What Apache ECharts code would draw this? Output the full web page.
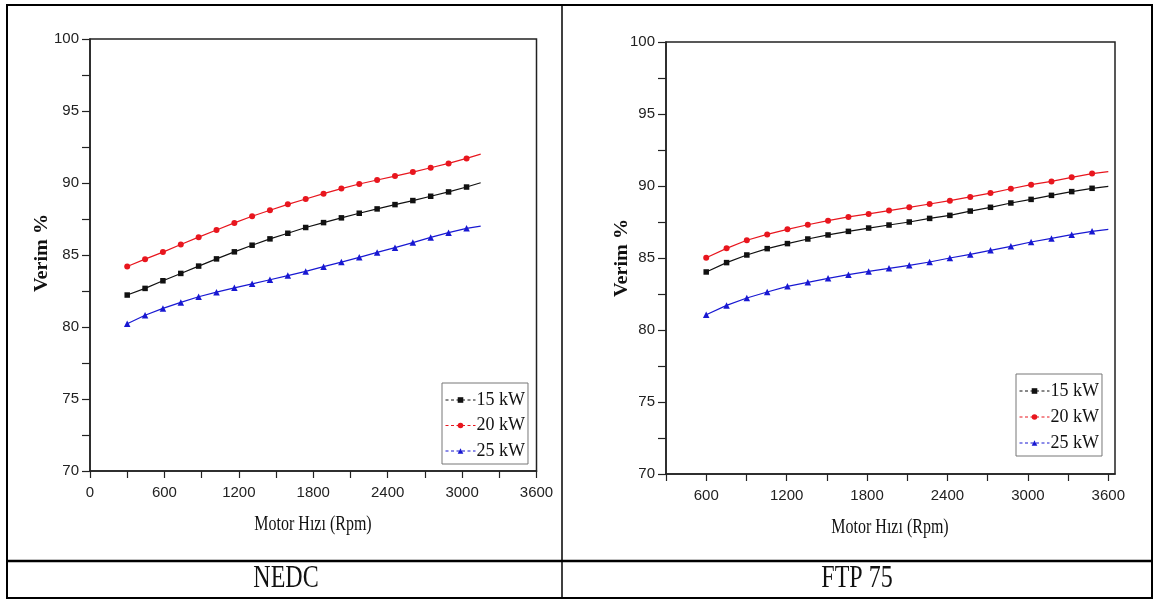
<!DOCTYPE html>
<html>
<head>
<meta charset="utf-8">
<script src="https://cdn.jsdelivr.net/npm/echarts@6/dist/echarts.min.js"></script>
<style>
html,body{margin:0;padding:0;background:#fff;}
#c{width:1154px;height:599px;}
</style>
</head>
<body>
<div id="c"></div>
<script>
// ---- Data ----
const seriesNames = ['15 kW', '20 kW', '25 kW'];

// NEDC (left)
const nedcRpm = [300, 444, 588, 732, 876, 1020, 1164, 1307, 1451, 1595, 1739, 1883, 2027, 2171, 2315, 2459, 2603, 2747, 2891, 3036, 3150];
const nedc15 = [82.22, 82.68, 83.21, 83.72, 84.23, 84.73, 85.22, 85.68, 86.12, 86.51, 86.91, 87.25, 87.58, 87.90, 88.20, 88.50, 88.78, 89.08, 89.38, 89.72, 90.02];
const nedc20 = [84.20, 84.71, 85.20, 85.73, 86.24, 86.74, 87.23, 87.69, 88.11, 88.52, 88.89, 89.26, 89.61, 89.93, 90.21, 90.48, 90.76, 91.06, 91.36, 91.71, 92.01];
const nedc25 = [80.22, 80.82, 81.29, 81.71, 82.10, 82.42, 82.72, 83.00, 83.28, 83.57, 83.86, 84.19, 84.51, 84.84, 85.18, 85.51, 85.86, 86.22, 86.55, 86.85, 87.00];

// FTP 75 (right)
const ftpRpm = [600, 752, 903, 1055, 1206, 1358, 1509, 1661, 1812, 1964, 2115, 2267, 2418, 2570, 2721, 2873, 3024, 3176, 3327, 3479, 3600];
const ftp15 = [84.03, 84.68, 85.21, 85.65, 86.00, 86.32, 86.60, 86.85, 87.08, 87.29, 87.50, 87.75, 87.96, 88.26, 88.52, 88.82, 89.07, 89.35, 89.61, 89.84, 89.98];
const ftp20 = [85.02, 85.67, 86.23, 86.64, 86.99, 87.31, 87.59, 87.85, 88.06, 88.29, 88.52, 88.75, 88.98, 89.24, 89.51, 89.81, 90.09, 90.32, 90.60, 90.86, 91.00];
const ftp25 = [81.06, 81.71, 82.22, 82.64, 83.03, 83.31, 83.59, 83.84, 84.07, 84.28, 84.49, 84.72, 85.00, 85.25, 85.53, 85.81, 86.11, 86.36, 86.62, 86.85, 86.99];

// Tick values / labels
const yTicks = [70, 72.5, 75, 77.5, 80, 82.5, 85, 87.5, 90, 92.5, 95, 97.5, 100];
const yLabels = [70, 75, 80, 85, 90, 95, 100];
const xTicksNedc = [0, 300, 600, 900, 1200, 1500, 1800, 2100, 2400, 2700, 3000, 3300, 3600];
const xLabelsNedc = [0, 600, 1200, 1800, 2400, 3000, 3600];
const xTicksFtp = [300, 600, 900, 1200, 1500, 1800, 2100, 2400, 2700, 3000, 3300, 3600];
const xLabelsFtp = [600, 1200, 1800, 2400, 3000, 3600];

const xTitle = 'Motor Hızı (Rpm)';
const yTitle = 'Verim %';
const panelTitles = ['NEDC', 'FTP 75'];

// ---- Styles ----
const colors = ['#111111', '#e8161e', '#1818d2'];
const symbols = ['rect', 'circle', 'triangle'];
const symSizes = [5.5, 6, 6.5];
const tickFont = '"Liberation Sans", Arial, sans-serif';
const serif = '"Liberation Serif", "Times New Roman", serif';
const axisColor = '#222';

function makeData(xs, ys) {
  return xs.map((x, i) => i === xs.length - 1
    ? { value: [x, ys[i]], symbol: 'none' }
    : [x, ys[i]]);
}

function xAxis(gi, min, max, ticks, labels) {
  return {
    type: 'value', gridIndex: gi, min: min, max: max, interval: 300,
    axisLine: { lineStyle: { color: axisColor, width: 1.5 } },
    axisTick: { show: true, inside: false, length: 7, customValues: ticks, lineStyle: { color: axisColor, width: 1.2 } },
    axisLabel: { customValues: labels, margin: 14, fontFamily: tickFont, fontSize: 15, color: '#222', formatter: v => String(v) },
    splitLine: { show: false }
  };
}
function yAxis(gi) {
  return {
    type: 'value', gridIndex: gi, min: 70, max: 100, interval: 2.5,
    axisLine: { lineStyle: { color: axisColor, width: 1.5 } },
    axisTick: { show: true, inside: false, length: 8, customValues: yTicks, lineStyle: { color: axisColor, width: 1.2 } },
    axisLabel: { customValues: yLabels, margin: 11, fontFamily: tickFont, fontSize: 15, color: '#222', formatter: v => String(v) },
    splitLine: { show: false }
  };
}
function series(gi, name, idx, xs, ys) {
  return {
    type: 'line', name: name, xAxisIndex: gi, yAxisIndex: gi,
    data: makeData(xs, ys),
    symbol: symbols[idx], symbolSize: symSizes[idx], showSymbol: true,
    lineStyle: { color: colors[idx], width: 1.2 },
    itemStyle: { color: colors[idx] },
    animation: false, z: 3
  };
}
function legend(left, top, gap, padTop) {
  return {
    show: true, orient: 'vertical', left: left, top: top,
    data: seriesNames,
    itemWidth: 30, itemHeight: 7, itemGap: gap,
    padding: [padTop, 3, 4, 3],
    borderColor: '#777', borderWidth: 1, backgroundColor: '#fff',
    lineStyle: { type: [3, 2.5], width: 1 },
    textStyle: { fontFamily: serif, fontSize: 18, color: '#111', padding: [0, 0, 0, -4] },
    selectedMode: false
  };
}

function label(text, x, y, size, sx, rot, weight) {
  return {
    type: 'text', x: x, y: y, scaleX: sx, scaleY: 1, rotation: rot || 0, z: 10,
    style: { text: text, x: 0, y: 0, align: 'center', verticalAlign: 'middle',
      font: (weight || 'normal') + ' ' + size + 'px ' + serif, fill: '#111' }
  };
}

const W = 1154, H = 599;
const graphics = [
  // table borders
  { type: 'rect', shape: { x: 7, y: 5, width: 1145, height: 593 }, style: { fill: 'none', stroke: '#000', lineWidth: 2 }, z: 10 },
  { type: 'line', shape: { x1: 562, y1: 5, x2: 562, y2: 598 }, style: { stroke: '#000', lineWidth: 1.5 }, z: 10 },
  { type: 'line', shape: { x1: 7, y1: 561, x2: 1152, y2: 561 }, style: { stroke: '#000', lineWidth: 2.5 }, z: 10 },
  // panel titles
  label(panelTitles[0], 286, 579, 32, 0.75),
  label(panelTitles[1], 857, 579, 32, 0.75),
  // axis titles
  label(xTitle, 313, 525, 20, 0.8),
  label(xTitle, 890, 528, 20, 0.8),
  label(yTitle, 42, 253, 18, 1.12, Math.PI / 2, 'bold'),
  label(yTitle, 622, 258, 18, 1.12, Math.PI / 2, 'bold')
];

const option = {
  backgroundColor: '#fff',
  animation: false,
  grid: [
    { left: 90, top: 39, width: 446.5, height: 432, show: true, borderColor: axisColor, borderWidth: 1.5, backgroundColor: 'transparent' },
    { left: 666, top: 42, width: 449, height: 432, show: true, borderColor: axisColor, borderWidth: 1.5, backgroundColor: 'transparent' }
  ],
  xAxis: [xAxis(0, 0, 3600, xTicksNedc, xLabelsNedc), xAxis(1, 300, 3650, xTicksFtp, xLabelsFtp)],
  yAxis: [yAxis(0), yAxis(1)],
  legend: [legend(442, 383, 7.5, 8), legend(1016, 374, 8, 8)],
  series: [
    series(0, seriesNames[0], 0, nedcRpm, nedc15),
    series(0, seriesNames[1], 1, nedcRpm, nedc20),
    series(0, seriesNames[2], 2, nedcRpm, nedc25),
    series(1, seriesNames[0], 0, ftpRpm, ftp15),
    series(1, seriesNames[1], 1, ftpRpm, ftp20),
    series(1, seriesNames[2], 2, ftpRpm, ftp25)
  ],
  graphic: graphics
};

const chart = echarts.init(document.getElementById('c'), null, { renderer: 'canvas', width: W, height: H });
chart.setOption(option);
</script>
</body>
</html>
